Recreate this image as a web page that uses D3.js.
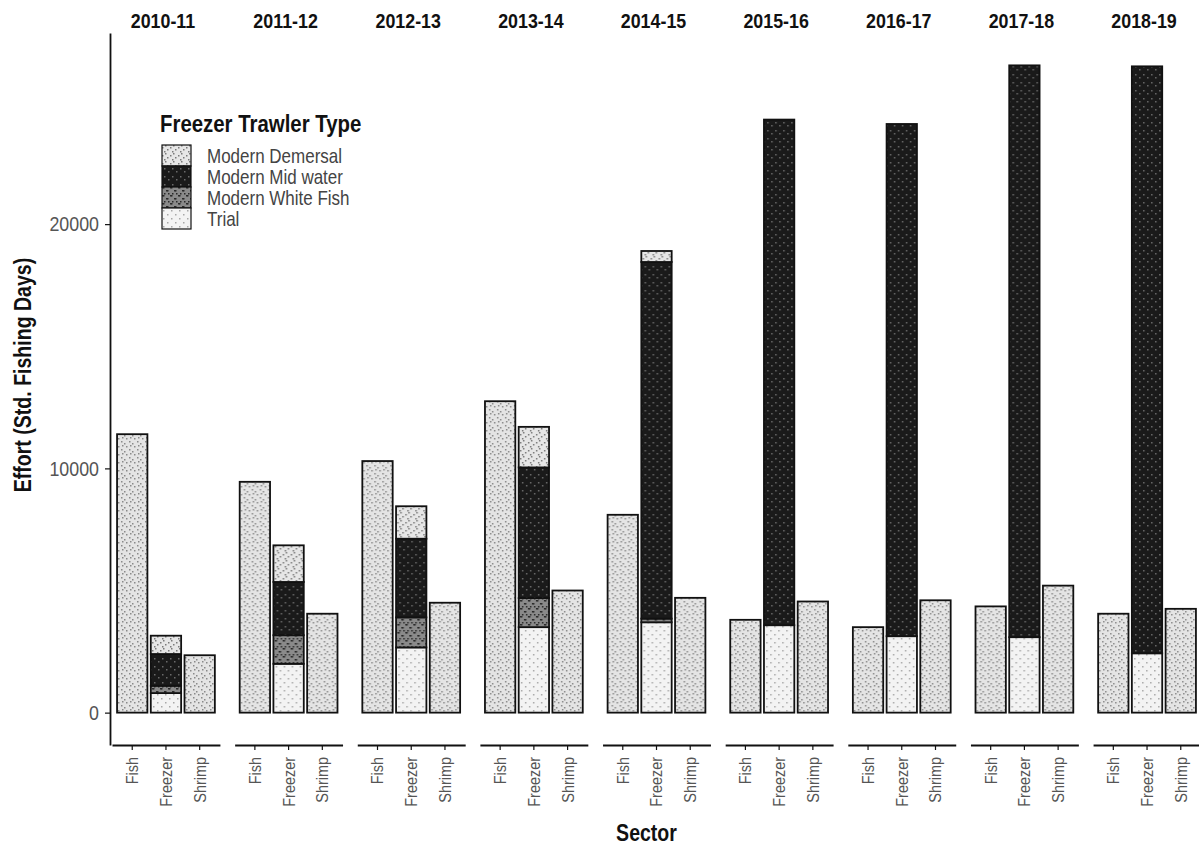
<!DOCTYPE html>
<html>
<head>
<meta charset="utf-8">
<script src="https://cdn.jsdelivr.net/npm/d3@7"></script>
<style>
  body { margin: 0; background: #fff; }
  text { font-family: "Liberation Sans", Arial, sans-serif; }
  .stripText { font-size: 21px; font-weight: bold; fill: #111; }
  .axisTitle { font-size: 23px; font-weight: bold; fill: #111; }
  .tickText { font-size: 21px; fill: #555; }
  .sectorText { font-size: 17px; fill: #555; }
  .legendTitle { font-size: 24px; font-weight: bold; fill: #111; }
  .legendText { font-size: 20px; fill: #444; }
</style>
</head>
<body>
<svg id="chart" width="1199" height="846"></svg>
<script>
// Data (Std. fishing days)
var years = ["2010-11", "2011-12", "2012-13", "2013-14", "2014-15", "2015-16", "2016-17", "2017-18", "2018-19"];
var sectors = ["Fish", "Freezer", "Shrimp"];
var trawlerTypes = ["Modern Demersal", "Modern Mid water", "Modern White Fish", "Trial"];
var yTicks = [0, 10000, 20000];

var fishEffort   = [11400, 9450, 10300, 12750, 8100, 3800, 3500, 4350, 4050];
var shrimpEffort = [2350, 4050, 4500, 5000, 4700, 4550, 4600, 5200, 4250];

// Freezer sector split by trawler type
var freezerDemersal  = [750, 1500, 1330, 1660, 450, 0, 0, 0, 0];
var freezerMidWater  = [1300, 2180, 3220, 5350, 14600, 20700, 20970, 23410, 24030];
var freezerWhiteFish = [300, 1170, 1230, 1190, 150, 0, 0, 0, 0];
var freezerTrial     = [800, 2000, 2670, 3500, 3700, 3580, 3130, 3090, 2430];

// Build stacked segments (ggplot order: first level on top, so Trial at the bottom)
var freezerByType = {
  "Modern Demersal": freezerDemersal,
  "Modern Mid water": freezerMidWater,
  "Modern White Fish": freezerWhiteFish,
  "Trial": freezerTrial
};
var segments = [];
years.forEach(function(yr, i) {
  segments.push({ year: yr, sector: "Fish", type: "other", y0: 0, y1: fishEffort[i] });
  segments.push({ year: yr, sector: "Shrimp", type: "other", y0: 0, y1: shrimpEffort[i] });
  var base = 0;
  trawlerTypes.slice().reverse().forEach(function(t) {
    var v = freezerByType[t][i];
    if (v > 0) {
      segments.push({ year: yr, sector: "Freezer", type: t, y0: base, y1: base + v });
      base += v;
    }
  });
});

// Layout
var margin = { left: 112, right: 0, top: 33, bottom: 101 };
var width = 1201, height = 846;
var narrow = 0.85; // squeeze text horizontally (figure uses a narrow face)
var svg = d3.select("#chart");

var maxTotal = d3.max(segments, function(d) { return d.y1; });
var yScale = d3.scaleLinear()
  .domain([-0.05 * maxTotal, 1.05 * maxTotal])
  .range([height - margin.bottom, margin.top]);

var panelScale = d3.scaleBand()
  .domain(years)
  .range([margin.left, width - margin.right])
  .paddingInner(0.12)
  .paddingOuter(0);

var xScale = d3.scaleBand()
  .domain(sectors)
  .range([0, panelScale.bandwidth()])
  .paddingInner(0.1)
  .paddingOuter(0.15);

// place a text at (x,y) with optional rotation, squeezed horizontally
var placeText = function(sel, x, y, rot) {
  return sel.attr("transform", "translate(" + x + "," + y + ")" + (rot ? " rotate(" + rot + ")" : "") + " scale(" + narrow + ",1)");
};

// Fill patterns (grey textures like the scanned figure)
var defs = svg.append("defs");
var patternDefs = [
  { id: "other", bg: "#e4e4e4", dot: "#8a8a8a", dots: [[1,1],[4,3],[2,5],[6,6]] },
  { id: "Modern Demersal", bg: "#e6e6e6", dot: "#7a7a7a", dots: [[0,2],[3,0],[5,4],[2,6]] },
  { id: "Modern Mid water", bg: "#1a1a1a", dot: "#6a6a6a", dots: [[2,2],[6,5]] },
  { id: "Modern White Fish", bg: "#8a8a8a", dot: "#2a2a2a", dots: [[0,0],[1,0],[4,3],[5,3],[2,6],[6,6]] },
  { id: "Trial", bg: "#f3f3f3", dot: "#a8a8a8", dots: [[1,2],[5,6]] }
];
var patternId = function(t) { return "pat-" + t.replace(/\s+/g, "-"); };
patternDefs.forEach(function(p) {
  var pat = defs.append("pattern")
    .attr("id", patternId(p.id))
    .attr("patternUnits", "userSpaceOnUse")
    .attr("width", 8).attr("height", 8);
  pat.append("rect").attr("width", 8).attr("height", 8).style("fill", p.bg);
  pat.selectAll("rect.dot").data(p.dots).enter().append("rect")
    .attr("class", "dot")
    .attr("x", function(d) { return d[0]; })
    .attr("y", function(d) { return d[1]; })
    .attr("width", 1.5).attr("height", 1.5)
    .style("fill", p.dot);
});

// Panels
var panels = svg.selectAll("g.panel")
  .data(years)
  .enter()
  .append("g")
  .attr("class", "panel")
  .attr("transform", function(d) { return "translate(" + panelScale(d) + ",0)"; });

// Strip labels
panels.append("text")
  .attr("class", "stripText")
  .attr("text-anchor", "middle")
  .call(placeText, panelScale.bandwidth() / 2 - 3, 28)
  .text(function(d) { return d; });

// Bars
panels.selectAll("rect.seg")
  .data(function(yr) { return segments.filter(function(s) { return s.year == yr; }); })
  .enter()
  .append("rect")
  .attr("class", "seg")
  .attr("x", function(d) { return xScale(d.sector); })
  .attr("width", xScale.bandwidth())
  .attr("y", function(d) { return yScale(d.y1); })
  .attr("height", function(d) { return yScale(d.y0) - yScale(d.y1); })
  .style("fill", function(d) { return "url(#" + patternId(d.type) + ")"; })
  .style("stroke", "#111")
  .style("stroke-width", 1.8);

// X axis per panel
panels.append("g")
  .attr("transform", "translate(0," + (height - margin.bottom) + ")")
  .call(d3.axisBottom(xScale).tickSize(5).tickSizeOuter(0).tickPadding(4))
  .call(function(g) {
    g.select(".domain").style("stroke", "#111").style("stroke-width", 1.8);
    g.selectAll(".tick line").style("stroke", "#111").style("stroke-width", 1.2);
    g.selectAll(".tick text")
      .attr("class", "sectorText")
      .attr("transform", "rotate(-90) scale(" + narrow + ",1)")
      .attr("text-anchor", "end")
      .attr("x", -12 / narrow)
      .attr("y", 0)
      .attr("dy", "0.35em");
  });

// Y axis
svg.append("g")
  .attr("transform", "translate(" + (margin.left - 2) + ",0)")
  .call(d3.axisLeft(yScale).tickValues(yTicks).tickFormat(d3.format("d")).tickSize(5).tickSizeOuter(0).tickPadding(6))
  .call(function(g) {
    g.select(".domain").style("stroke", "#111").style("stroke-width", 1.8);
    g.selectAll(".tick line").style("stroke", "#111").style("stroke-width", 1.2);
    g.selectAll(".tick text")
      .attr("class", "tickText")
      .attr("x", -11 / narrow)
      .attr("transform", "scale(" + narrow + ",1)");
  });

// Axis titles
svg.append("text")
  .attr("class", "axisTitle")
  .attr("text-anchor", "middle")
  .call(placeText, 31, (margin.top + height - margin.bottom) / 2 - 14, -90)
  .text("Effort (Std. Fishing Days)");

svg.append("text")
  .attr("class", "axisTitle")
  .attr("text-anchor", "middle")
  .call(placeText, (margin.left + width) / 2 - 10, 841)
  .text("Sector");

// Legend
var legend = svg.append("g").attr("transform", "translate(160,132)");
legend.append("text")
  .attr("class", "legendTitle")
  .call(placeText, 0, 0)
  .text("Freezer Trawler Type");

var keyH = 21, keyW = 29;
var legendItem = legend.selectAll("g.legendItem")
  .data(trawlerTypes)
  .enter()
  .append("g")
  .attr("class", "legendItem")
  .attr("transform", function(d, i) { return "translate(2," + (13 + i * keyH) + ")"; });
legendItem.append("rect")
  .attr("width", keyW)
  .attr("height", keyH)
  .style("fill", function(d) { return "url(#" + patternId(d) + ")"; })
  .style("stroke", "#111")
  .style("stroke-width", 1.2);
legendItem.append("text")
  .attr("class", "legendText")
  .attr("dy", "0.35em")
  .call(placeText, keyW + 16, keyH / 2)
  .text(function(d) { return d; });
</script>
</body>
</html>
